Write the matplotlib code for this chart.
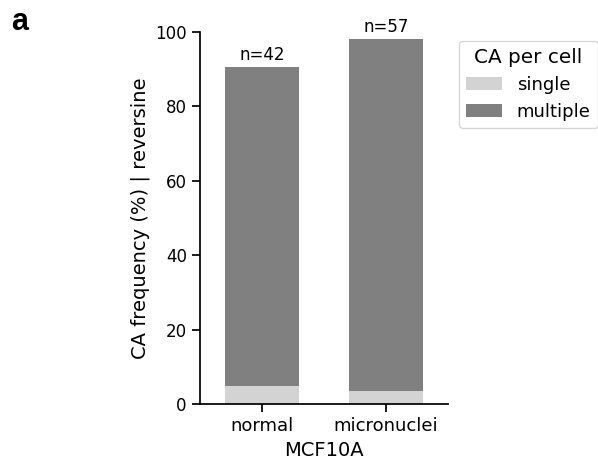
import matplotlib
matplotlib.use("Agg")
import matplotlib.pyplot as plt
import numpy as np

categories = ["normal", "micronuclei"]
single = [4.76, 3.51]
multiple = [85.71, 94.74]
n_labels = ["n=42", "n=57"]
legend_labels = ["single", "multiple"]
colors = ["#d3d3d3", "#808080"]

fig = plt.figure(figsize=(5.98, 4.69), dpi=100)
ax = fig.add_axes([200/598, 1-404/469, 248/598, 372/469])
x = np.arange(len(categories))
ax.bar(x, single, width=0.6, color=colors[0], label=legend_labels[0])
ax.bar(x, multiple, width=0.6, bottom=single, color=colors[1], label=legend_labels[1])
for xi, s, m, t in zip(x, single, multiple, n_labels):
    ax.text(xi, s + m + 0.8, t, ha="center", va="bottom", fontsize=12)
ax.set_xlim(-0.5, 1.5)
ax.set_ylim(0, 100)
ax.set_xticks(x)
ax.set_xticklabels(categories)
ax.set_yticks([0, 20, 40, 60, 80, 100])
ax.tick_params(axis="y", labelsize=12, length=6, width=1.25)
ax.tick_params(axis="x", labelsize=13, length=6, width=1.25)
for s in ["top", "right"]:
    ax.spines[s].set_visible(False)
for s in ["left", "bottom"]:
    ax.spines[s].set_linewidth(1.25)
ax.set_xlabel("MCF10A", fontsize=14)
ax.set_ylabel("CA frequency (%) | reversine", fontsize=14)
leg = ax.legend(title="CA per cell", fontsize=13, title_fontsize=14.4,
                loc="upper left", bbox_to_anchor=(1.044, 0.977), borderaxespad=0,
                frameon=True)
fig.text(11/598, 1-30/469, "a", fontsize=22, fontweight="bold",
         family="Liberation Sans", va="baseline", ha="left")
fig.savefig("out.png", dpi=100)
